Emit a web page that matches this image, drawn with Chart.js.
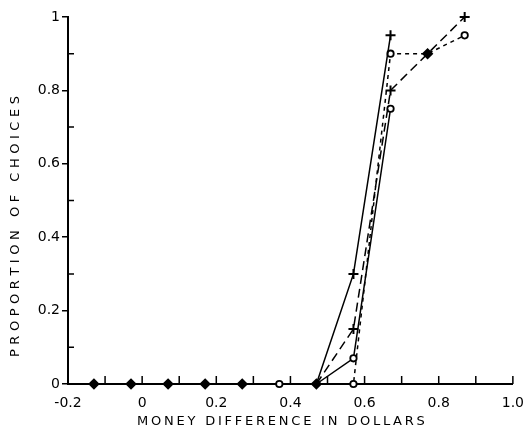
<!DOCTYPE html>
<html>
<head>
<meta charset="utf-8">
<script src="https://cdn.jsdelivr.net/npm/chart.js@4"></script>
<style>
  html, body { margin: 0; padding: 0; background: #fff; }
  #wrap { width: 527px; height: 429px; }
</style>
</head>
<body>
<div id="wrap"><canvas id="chart"></canvas></div>
<script>
// ==================== DATOS ====================

// puntos comunes sobre el eje (todas las curvas en 0)
const zeroX = [-0.13, -0.03, 0.07, 0.17, 0.27, 0.37, 0.47];
const zeroY = [0, 0, 0, 0, 0, 0, 0];
// punto donde coinciden dos curvas
const tiedX = [0.77];
const tiedY = [0.9];

const s1X = [0.47, 0.57, 0.67];
const s1Y = [0, 0.3, 0.95];
const s2X = [0.47, 0.57, 0.67, 0.77, 0.87];
const s2Y = [0, 0.15, 0.8, 0.9, 1.0];
const s3X = [0.47, 0.57, 0.67, 0.77, 0.87];
const s3Y = [0, 0, 0.9, 0.9, 0.95];
const s4X = [0.47, 0.57, 0.67];
const s4Y = [0, 0.07, 0.75];

const xTicks = [-0.1, 0, 0.1, 0.2, 0.3, 0.4, 0.5, 0.6, 0.7, 0.8, 0.9, 1.0];
const yMinorTicks = [0.1, 0.3, 0.5, 0.7, 0.9];

const xTitle = "MONEY DIFFERENCE IN DOLLARS";
const yTitle = "PROPORTION OF CHOICES";

const pts = (xs, ys) => xs.map((x, i) => ({ x, y: ys[i] }));

// ==================== DECORACION ====================

function drawSpaced(ctx, text, cx, cy, width) {
  const w0 = ctx.measureText(text).width;
  const gap = (width - w0) / (text.length - 1);
  let x = cx - width / 2;
  for (const ch of text) {
    ctx.fillText(ch, x, cy);
    x += ctx.measureText(ch).width + gap;
  }
}

const axisDecor = {
  id: "axisDecor",
  afterDraw(chart) {
    const { ctx, scales: { x, y } } = chart;
    const y0 = y.getPixelForValue(0);
    const x0 = x.getPixelForValue(-0.2);
    ctx.save();
    ctx.strokeStyle = "#000";
    ctx.lineWidth = 1.5;
    ctx.beginPath();
    xTicks.forEach((v) => {
      const px = x.getPixelForValue(v);
      ctx.moveTo(px, y0);
      ctx.lineTo(px, y0 - 8);
    });
    yMinorTicks.forEach((v) => {
      const py = y.getPixelForValue(v);
      ctx.moveTo(x0, py);
      ctx.lineTo(x0 + 6, py);
    });
    ctx.stroke();

    ctx.fillStyle = "#000";
    ctx.font = "13px 'DejaVu Sans'";
    ctx.textBaseline = "middle";
    ctx.textAlign = "left";
    drawSpaced(ctx, xTitle, 281, 422, 288);
    ctx.translate(16, 227);
    ctx.rotate(-Math.PI / 2);
    drawSpaced(ctx, yTitle, 0, 0, 260);
    ctx.restore();
  },
};

// ==================== GRAFICO ====================

const base = {
  borderColor: "#000",
  pointBorderColor: "#000",
  pointBackgroundColor: "#fff",
  borderWidth: 1.5,
  pointBorderWidth: 1.8,
  clip: false,
  tension: 0,
};

new Chart(document.getElementById("chart"), {
  type: "scatter",
  data: {
    datasets: [
      {
        ...base,
        data: pts(s1X, s1Y),
        showLine: true,
        pointStyle: "cross",
        pointRadius: [0, 5, 5],
        pointBorderWidth: 2,
      },
      {
        ...base,
        data: pts(s2X, s2Y),
        showLine: true,
        borderDash: [9, 5],
        pointStyle: "cross",
        pointRadius: [0, 5, 5, 0, 5],
        pointBorderWidth: 2,
      },
      {
        ...base,
        data: pts(s3X, s3Y),
        showLine: true,
        borderDash: [4, 4],
        pointStyle: "circle",
        pointRadius: [0, 3.2, 3.2, 0, 3.2],
      },
      {
        ...base,
        data: pts(s4X, s4Y),
        showLine: true,
        pointStyle: "circle",
        pointRadius: [0, 3.2, 3.2],
      },
      {
        ...base,
        data: pts(zeroX, zeroY),
        showLine: true,
        borderWidth: 2,
        pointStyle: ["rectRot", "rectRot", "rectRot", "rectRot", "rectRot", "circle", "rectRot"],
        pointRadius: [4.5, 4.5, 4.5, 4.5, 4.5, 3.2, 4.5],
        pointBackgroundColor: ["#000", "#000", "#000", "#000", "#000", "#fff", "#000"],
      },
      {
        ...base,
        data: pts(tiedX, tiedY),
        pointStyle: "rectRot",
        pointRadius: 4.5,
        pointBackgroundColor: "#000",
      },
    ],
  },
  options: {
    responsive: true,
    maintainAspectRatio: false,
    animation: false,
    layout: { padding: { top: 17, right: 13, left: 0, bottom: 0 } },
    plugins: {
      legend: { display: false },
      tooltip: { enabled: false },
    },
    scales: {
      x: {
        type: "linear",
        min: -0.2,
        max: 1.0,
        afterFit: (s) => { s.height = 45; },
        grid: { display: false },
        border: { display: true, color: "#000", width: 2 },
        ticks: {
          stepSize: 0.2,
          padding: 3,
          color: "#000",
          font: { family: "'DejaVu Sans'", size: 14 },
          callback: (v) => (Math.abs(v) < 1e-9 ? "0" : v.toFixed(1)),
        },
      },
      y: {
        type: "linear",
        min: 0,
        max: 1,
        afterFit: (s) => { s.width = 68; },
        grid: {
          display: true,
          drawOnChartArea: false,
          drawTicks: true,
          tickLength: 6,
          color: "#000",
          lineWidth: 1.5,
        },
        border: { display: true, color: "#000", width: 2 },
        ticks: {
          stepSize: 0.2,
          padding: 2,
          color: "#000",
          font: { family: "'DejaVu Sans'", size: 14 },
          callback: (v) =>
            Math.abs(v) < 1e-9 ? "0" : Math.abs(v - 1) < 1e-9 ? "1" : v.toFixed(1),
        },
      },
    },
  },
  plugins: [axisDecor],
});
</script>
</body>
</html>
